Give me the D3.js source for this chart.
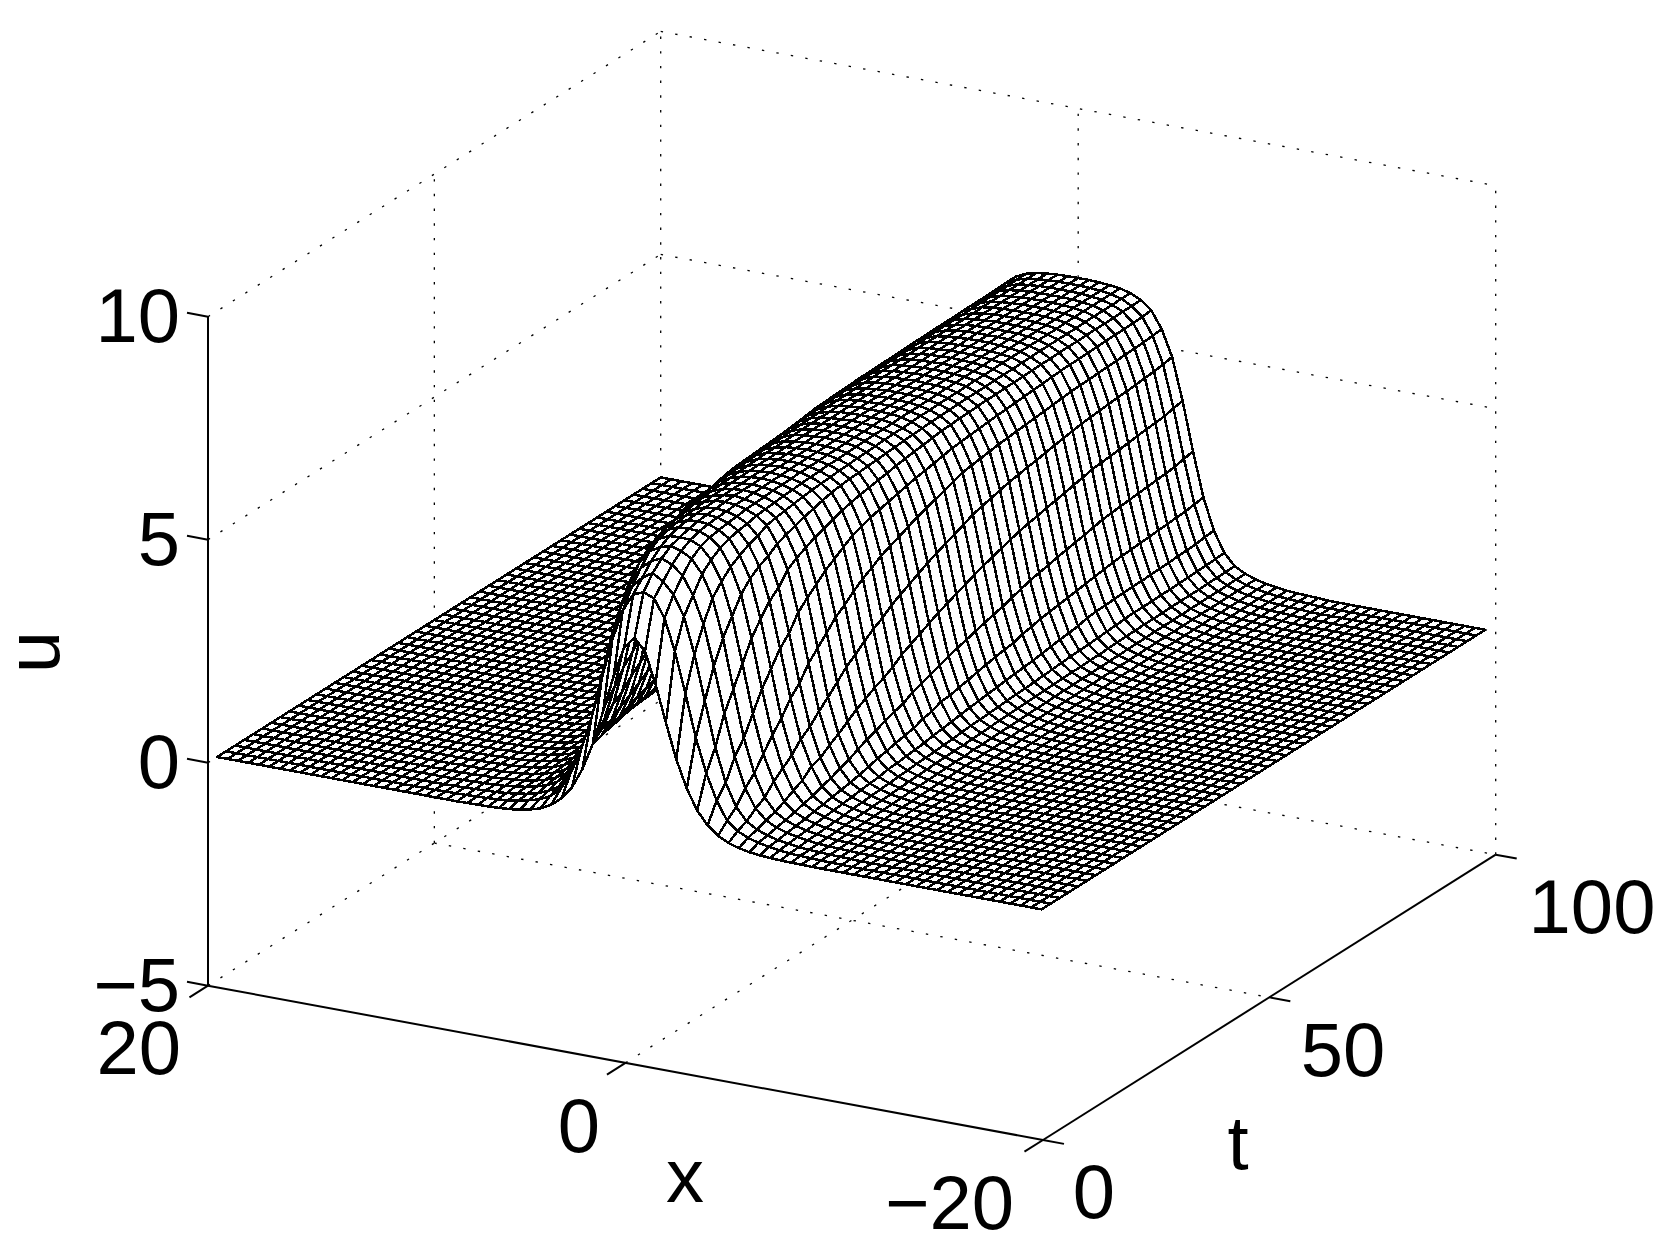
<!DOCTYPE html>
<html><head><meta charset="utf-8">
<script src="https://cdn.jsdelivr.net/npm/d3@7/dist/d3.min.js"></script>
<style>html,body{margin:0;padding:0;background:#fff}svg{display:block}text{font-family:"Liberation Sans",Arial,sans-serif;font-size:76px;fill:#000}</style>
</head><body><svg id="c" width="1672" height="1250"></svg>
<script>
const xValues=[20,19.5,19,18.5,18,17.5,17,16.5,16,15.5,15,14.5,14,13.5,13,12.5,12,11.5,11,10.5,10,9.5,9,8.5,8,7.5,7,6.5,6,5.5,5,4.5,4,3.5,3,2.5,2,1.5,1,.5,0,-.5,-1,-1.5,-2,-2.5,-3,-3.5,-4,-4.5,-5,-5.5,-6,-6.5,-7,-7.5,-8,-8.5,-9,-9.5,-10,-10.5,-11,-11.5,-12,-12.5,-13,-13.5,-14,-14.5,-15,-15.5,-16,-16.5,-17,-17.5,-18,-18.5,-19,-19.5];
const tValues=[2,4,6,8,10,12,14,16,18,20,22,24,26,28,30,32,34,36,38,40,42,44,46,48,50,52,54,56,58,60,62,64,66,68,70,72,74,76,78,80,82,84,86,88,90,92,94,96,98,100];
// u against |x|, one row per t, at |x| = 0, 0.5, 1, ... (nodes further out read as 0)
const ridgeProfiles=[
[4.4,4.14,3.46,2.63,1.85,1.24,.79,.5,.31,.19,.12,.07,.044,.027,.016,.01,.006],
[5.3,5.2,4.8,4.1,3.2,2.25,1.5,.93,.52,.33,.22,.155,.105,.07,.045,.033,.024,.015,.01,.006],
[5.6,5.45,5.2,4.75,3.95,2.95,1.95,1.2,.7,.42,.28,.19,.13,.09,.06,.04,.03,.02,.012,.007],
[5.8,5.7,5.5,5.1,4.5,3.6,2.58,1.65,.99,.58,.36,.24,.165,.115,.08,.05,.035,.025,.016,.01,.005],
[5.95,5.88,5.75,5.45,4.95,4.1,3,1.95,1.2,.7,.42,.28,.19,.13,.09,.06,.04,.03,.02,.012,.007],
[6.02,6,5.9,5.64,5.2,4.46,3.44,2.37,1.5,.93,.52,.33,.22,.155,.105,.07,.045,.034,.024,.015,.01,.005],
[6.08,6.07,5.97,5.78,5.4,4.82,3.88,2.79,1.8,1.1,.64,.39,.26,.18,.12,.085,.055,.038,.028,.018,.011,.006],
[6.12,6.1,6.01,5.86,5.53,5.05,4.19,3.11,2.05,1.27,.74,.44,.29,.2,.135,.095,.063,.042,.03,.021,.013,.008,.004],
[6.14,6.12,6.04,5.91,5.64,5.2,4.46,3.44,2.37,1.5,.93,.52,.33,.22,.155,.105,.07,.045,.034,.024,.015,.01,.005],
[6.15,6.13,6.06,5.94,5.71,5.3,4.64,3.66,2.58,1.65,.99,.58,.36,.24,.165,.115,.08,.05,.036,.026,.017,.01,.006],
[6.17,6.15,6.09,5.99,5.82,5.45,4.91,3.99,2.9,1.87,1.15,.67,.4,.27,.185,.125,.087,.058,.039,.029,.019,.012,.007],
[6.18,6.15,6.1,6.01,5.86,5.53,5.05,4.19,3.11,2.05,1.27,.74,.44,.29,.2,.135,.095,.063,.042,.03,.021,.013,.008,.004],
[6.18,6.16,6.11,6.03,5.89,5.6,5.15,4.37,3.33,2.26,1.42,.84,.49,.31,.21,.15,.105,.07,.046,.034,.024,.016,.009,.005],
[6.18,6.16,6.13,6.05,5.92,5.67,5.25,4.55,3.55,2.47,1.57,.94,.55,.35,.23,.16,.11,.075,.05,.035,.025,.017,.01,.006],
[6.19,6.17,6.13,6.06,5.95,5.72,5.32,4.68,3.7,2.62,1.68,1.01,.59,.36,.24,.17,.115,.08,.052,.037,.026,.018,.011,.006],
[6.19,6.17,6.14,6.08,5.97,5.78,5.4,4.82,3.88,2.79,1.8,1.1,.64,.39,.26,.18,.12,.085,.055,.038,.028,.018,.011,.006],
[6.19,6.18,6.15,6.09,5.99,5.83,5.47,4.95,4.03,2.94,1.89,1.17,.68,.41,.27,.19,.13,.09,.06,.04,.03,.02,.012,.007],
[6.19,6.18,6.15,6.1,6,5.86,5.52,5.03,4.15,3.06,2.01,1.23,.72,.43,.28,.2,.135,.095,.062,.04,.03,.02,.013,.008],
[6.19,6.18,6.15,6.11,6.02,5.88,5.57,5.1,4.28,3.22,2.16,1.35,.8,.47,.3,.205,.14,.1,.065,.044,.032,.021,.014,.008],
[6.19,6.18,6.16,6.11,6.03,5.89,5.6,5.15,4.37,3.33,2.26,1.42,.84,.49,.31,.21,.15,.105,.07,.046,.034,.024,.016,.009],
[6.19,6.18,6.16,6.12,6.04,5.91,5.64,5.2,4.46,3.44,2.37,1.5,.93,.52,.33,.22,.155,.105,.07,.045,.034,.024,.015,.01],
[6.2,6.19,6.17,6.13,6.05,5.92,5.67,5.25,4.55,3.55,2.47,1.57,.94,.55,.35,.23,.16,.11,.075,.05,.035,.025,.017,.01],
[6.2,6.19,6.17,6.13,6.06,5.94,5.71,5.3,4.64,3.66,2.58,1.65,.99,.58,.36,.24,.165,.115,.08,.05,.036,.026,.017,.01],
[6.2,6.19,6.17,6.14,6.07,5.95,5.74,5.35,4.71,3.75,2.66,1.71,1.03,.6,.37,.25,.17,.12,.08,.055,.037,.027,.018,.011],
[6.2,6.19,6.17,6.14,6.08,5.97,5.77,5.38,4.78,3.84,2.75,1.77,1.08,.63,.38,.26,.175,.12,.085,.056,.038,.028,.018,.011],
[6.2,6.19,6.18,6.14,6.08,5.98,5.79,5.42,4.85,3.92,2.83,1.83,1.12,.65,.4,.27,.18,.125,.085,.057,.039,.029,.019,.012],
[6.2,6.19,6.18,6.15,6.09,5.99,5.82,5.46,4.93,4.01,2.92,1.89,1.16,.68,.41,.275,.185,.13,.088,.058,.04,.029,.019,.012],
[6.2,6.19,6.18,6.15,6.1,6,5.85,5.5,5,4.1,3,1.95,1.2,.7,.42,.28,.19,.13,.09,.06,.04,.03,.02,.012],
[6.2,6.19,6.18,6.15,6.1,6.01,5.86,5.52,5.03,4.16,3.06,2,1.22,.72,.43,.285,.195,.135,.092,.062,.041,.03,.02,.013],
[6.2,6.19,6.18,6.15,6.11,6.02,5.87,5.54,5.06,4.21,3.13,2.07,1.29,.74,.45,.295,.2,.135,.095,.064,.042,.031,.021,.013],
[6.2,6.19,6.18,6.16,6.11,6.02,5.88,5.56,5.09,4.26,3.2,2.13,1.33,.77,.46,.3,.205,.14,.097,.065,.043,.031,.021,.014],
[6.2,6.19,6.18,6.16,6.11,6.03,5.89,5.58,5.12,4.32,3.26,2.2,1.38,.8,.48,.31,.21,.145,.1,.067,.044,.032,.022,.014],
[6.2,6.19,6.18,6.16,6.12,6.03,5.9,5.6,5.14,4.35,3.31,2.24,1.41,.83,.49,.31,.21,.15,.1,.068,.045,.032,.022,.014],
[6.2,6.19,6.18,6.16,6.12,6.03,5.9,5.61,5.16,4.39,3.35,2.28,1.44,.85,.5,.32,.215,.15,.105,.069,.046,.033,.023,.015],
[6.2,6.19,6.18,6.16,6.12,6.04,5.91,5.63,5.18,4.42,3.4,2.33,1.47,.88,.51,.32,.22,.155,.105,.07,.046,.034,.023,.015],
[6.2,6.19,6.18,6.16,6.12,6.04,5.91,5.64,5.2,4.46,3.44,2.37,1.5,.93,.52,.33,.22,.155,.105,.07,.045,.034,.024,.015],
[6.2,6.19,6.18,6.16,6.13,6.04,5.92,5.66,5.22,4.5,3.48,2.41,1.53,.95,.54,.34,.23,.16,.11,.072,.047,.035,.024,.015],
[6.2,6.19,6.18,6.16,6.13,6.05,5.92,5.67,5.24,4.53,3.53,2.45,1.56,.96,.55,.35,.23,.16,.11,.075,.05,.035,.025,.016],
[6.2,6.2,6.18,6.16,6.13,6.05,5.93,5.69,5.26,4.57,3.57,2.49,1.59,.97,.57,.35,.235,.165,.115,.077,.05,.036,.025,.016],
[6.2,6.2,6.19,6.17,6.13,6.06,5.93,5.7,5.28,4.6,3.62,2.54,1.62,.98,.58,.36,.24,.165,.115,.08,.05,.036,.026,.017],
[6.2,6.2,6.19,6.17,6.13,6.06,5.94,5.71,5.29,4.62,3.64,2.56,1.64,.99,.58,.36,.24,.165,.115,.08,.05,.036,.026,.017],
[6.2,6.2,6.19,6.17,6.13,6.06,5.94,5.71,5.3,4.64,3.66,2.58,1.65,.99,.58,.36,.24,.165,.115,.08,.05,.036,.026,.017],
[6.2,6.2,6.19,6.17,6.13,6.06,5.94,5.72,5.31,4.66,3.68,2.6,1.67,1,.59,.37,.245,.17,.115,.08,.05,.037,.026,.017],
[6.2,6.2,6.19,6.17,6.14,6.06,5.95,5.73,5.32,4.68,3.7,2.62,1.68,1.01,.59,.37,.245,.17,.12,.08,.052,.037,.026,.017],
[6.2,6.2,6.19,6.17,6.14,6.07,5.95,5.73,5.33,4.69,3.73,2.64,1.7,1.02,.6,.37,.25,.17,.12,.08,.052,.037,.027,.017],
[6.2,6.2,6.19,6.17,6.14,6.07,5.95,5.74,5.34,4.71,3.75,2.66,1.71,1.03,.6,.37,.25,.17,.12,.08,.055,.037,.027,.018],
[6.2,6.2,6.19,6.17,6.14,6.07,5.95,5.74,5.35,4.73,3.77,2.68,1.73,1.04,.61,.38,.25,.175,.12,.085,.055,.038,.027,.018],
[6.2,6.2,6.19,6.17,6.14,6.07,5.96,5.75,5.36,4.75,3.79,2.7,1.74,1.05,.62,.38,.255,.175,.12,.085,.056,.038,.028,.018],
[6.2,6.2,6.19,6.17,6.14,6.08,5.96,5.76,5.38,4.78,3.84,2.75,1.77,1.08,.63,.38,.26,.175,.12,.085,.056,.038,.028,.018],
[6.2,6.2,6.19,6.17,6.14,6.08,5.97,5.78,5.4,4.82,3.88,2.79,1.8,1.1,.64,.39,.26,.18,.12,.085,.055,.038,.028,.018]
];
const centreIndex=40;
const xTicks=[20,0,-20], tTicks=[0,50,100], uTicks=[-5,0,5,10];
const uGridLevels=[-5,0,5,10];
const xLabels=["20","0","\u221220"], tLabels=["0","50","100"], uLabels=["\u22125","0","5","10"];

const svg=d3.select("#c");
const A=[208,985.7], B=[1043,1140], C=[1495.7,854.7];
const fx=d3.scaleLinear().domain([20,-20]).range([0,1]);
const ft=d3.scaleLinear().domain([0,100]).range([0,1]);
const uy=d3.scaleLinear().domain([-5,10]).range([0,-669]);
const ABx=B[0]-A[0],ABy=B[1]-A[1],BCx=C[0]-B[0],BCy=C[1]-B[1];
const project=(x,t,u)=>[A[0]+fx(x)*ABx+ft(t)*BCx, A[1]+fx(x)*ABy+ft(t)*BCy+uy(u)];
const lineGen=d3.line();
const seg=(g,a,b)=>g.append("path").attr("d",lineGen([a,b]));

// dotted grid
const grid=svg.append("g").attr("fill","none").attr("stroke","#000").attr("stroke-width",1.3).attr("stroke-dasharray","2.4 12.3");
const [x0,x1]=fx.domain(), [t0,t1]=ft.domain(), [u0,u1]=uy.domain();
uGridLevels.forEach(u=>{
  seg(grid,project(x0,t0,u),project(x0,t1,u));
  seg(grid,project(x0,t1,u),project(x1,t1,u));
});
seg(grid,project(x0,t1,u0),project(x0,t1,u1));
seg(grid,project(x1,t1,u0),project(x1,t1,u1));
seg(grid,project(x0,50,u0),project(x0,50,u1));
seg(grid,project(0,t1,u0),project(0,t1,u1));
seg(grid,project(0,t0,u0),project(0,t1,u0));
seg(grid,project(x0,50,u0),project(x1,50,u0));

// axes
const axes=svg.append("g").attr("fill","none").attr("stroke","#000").attr("stroke-width",2);
seg(axes,project(x0,t0,u0),project(x0,t0,u1));
seg(axes,project(x0,t0,u0),project(x1,t0,u0));
seg(axes,project(x1,t0,u0),project(x1,t1,u0));
const tickAB=[ABx/835*21,ABy/835*21], tickBC=[BCx/537*22,BCy/537*22];
uTicks.forEach(u=>{const p=project(x0,t0,u);seg(axes,p,[p[0]-tickAB[0],p[1]-tickAB[1]]);});
xTicks.forEach(x=>{const p=project(x,t0,u0);seg(axes,p,[p[0]-tickBC[0],p[1]-tickBC[1]]);});
tTicks.forEach(t=>{const p=project(x1,t,u0);seg(axes,p,[p[0]+tickAB[0],p[1]+tickAB[1]]);});

// surface: far rows first, white faces hide what lies behind
const uAt=(r,i)=>{const v=ridgeProfiles[r][Math.abs(i-centreIndex)];return v===undefined?0:v;};
const quads=[];
for(let r=tValues.length-2;r>=0;r--){
  for(let i=0;i<xValues.length-1;i++){
    quads.push([[i,r],[i+1,r],[i+1,r+1],[i,r+1]].map(([a,b])=>project(xValues[a],tValues[b],uAt(b,a))));
  }
}
svg.append("g").attr("fill","#fff").attr("stroke","#000").attr("stroke-width",2.5).attr("stroke-linejoin","round").attr("shape-rendering","crispEdges")
  .selectAll("path").data(quads).join("path").attr("d",d=>lineGen(d)+"Z");

// labels
const txt=(s,x,y,anchor,rot)=>{const e=svg.append("text").text(s).attr("text-anchor",anchor||"middle");
  if(rot)e.attr("transform",`translate(${x},${y}) rotate(${rot})`);else e.attr("x",x).attr("y",y);};
uTicks.forEach((u,i)=>txt(uLabels[i],180,project(x0,t0,u)[1]+25,"end"));
txt(xLabels[0],181,1074,"end");
txt(xLabels[1],579,1152);
txt(xLabels[2],1014,1229,"end");
txt(tLabels[0],1094,1218);
txt(tLabels[1],1343,1076);
txt(tLabels[2],1592,933);
txt("x",685,1202);
txt("t",1238,1169);
txt("u",59,652,"middle",-90);
</script></body></html>
